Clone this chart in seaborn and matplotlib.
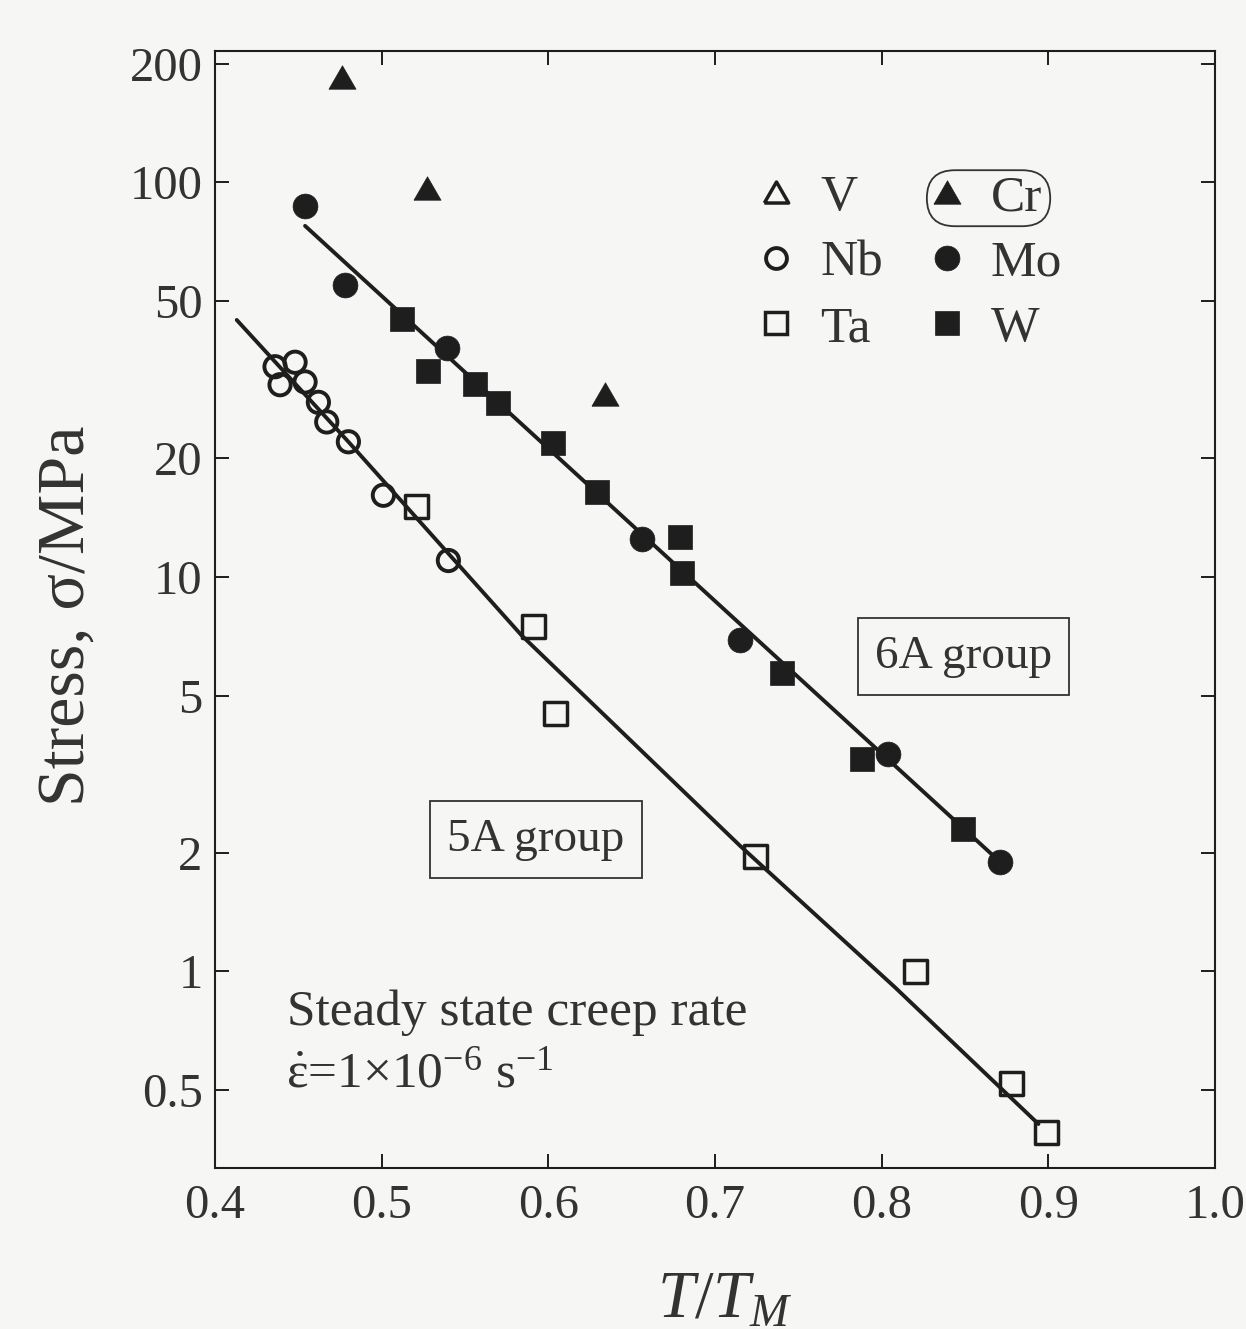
import matplotlib
matplotlib.use("Agg")
import matplotlib.pyplot as plt
import seaborn as sns
import pandas as pd
from matplotlib.lines import Line2D
from matplotlib.patches import FancyBboxPatch
from matplotlib.transforms import IdentityTransform
from matplotlib.ticker import NullLocator

# -------------------------
# Data (T/T_M, stress in MPa)
# -------------------------
cr_t = [0.476, 0.527, 0.634]
cr_s = [185, 97, 29]

mo_t = [0.454, 0.478, 0.539, 0.656, 0.715, 0.804, 0.871]
mo_s = [87, 55, 38, 12.5, 6.9, 3.55, 1.89]

w_t = [0.512, 0.528, 0.556, 0.570, 0.603, 0.629, 0.679, 0.680, 0.740, 0.788, 0.849]
w_s = [45, 33.3, 30.8, 27.6, 21.9, 16.4, 12.6, 10.2, 5.7, 3.45, 2.29]

nb_t = [0.436, 0.448, 0.439, 0.454, 0.462, 0.467, 0.480, 0.501, 0.540]
nb_s = [34.1, 35.0, 30.7, 31.2, 27.7, 24.7, 22.0, 16.1, 11.0]

ta_t = [0.521, 0.591, 0.604, 0.724, 0.820, 0.878, 0.899]
ta_s = [15.1, 7.5, 4.5, 1.95, 1.0, 0.52, 0.39]

# hand drawn trend lines
line6_t = [0.454, 0.873]
line6_s = [77.6, 1.86]
line5_t = [0.413, 0.480, 0.584, 0.715, 0.808, 0.894]
line5_s = [44.8, 22.0, 7.1, 2.08, 0.91, 0.41]

x_ticks = [0.4, 0.5, 0.6, 0.7, 0.8, 0.9, 1.0]
x_labels = ["0.4", "0.5", "0.6", "0.7", "0.8", "0.9", "1.0"]
y_ticks = [0.5, 1, 2, 5, 10, 20, 50, 100, 200]
y_labels = ["0.5", "1", "2", "5", "10", "20", "50", "100", "200"]

# -------------------------
# Style
# -------------------------
sns.set_theme(style="ticks")
plt.rcParams["font.family"] = ["Liberation Serif", "DejaVu Serif"]
plt.rcParams["mathtext.fontset"] = "custom"
plt.rcParams["mathtext.rm"] = "Liberation Serif"
plt.rcParams["mathtext.it"] = "Liberation Serif:italic"
plt.rcParams["mathtext.bf"] = "Liberation Serif:bold"

ink = "#1e1e1e"
txt = "#333333"
bg = "#f6f6f4"

# equilateral-ish triangle marker (closed so the open version draws all sides)
tri = [(-1, -0.866), (1, -0.866), (0, 0.866), (-1, -0.866)]

fig = plt.figure(figsize=(12.46, 13.29), dpi=100, facecolor=bg)
ax = fig.add_axes([0.1726, 0.1215, 0.8026, 0.8405], facecolor=bg)

# trend lines
sns.lineplot(x=line6_t, y=line6_s, ax=ax, color=ink, lw=2.8, sort=False, estimator=None)
sns.lineplot(x=line5_t, y=line5_s, ax=ax, color=ink, lw=2.8, sort=False, estimator=None)

# points
sns.scatterplot(x=cr_t, y=cr_s, ax=ax, marker=tri, s=380, color=ink, edgecolor=ink, linewidth=0.5, zorder=3)
sns.scatterplot(x=mo_t, y=mo_s, ax=ax, marker="o", s=320, color=ink, edgecolor=ink, linewidth=0.5, zorder=3)
sns.scatterplot(x=w_t, y=w_s, ax=ax, marker="s", s=290, color=ink, edgecolor=ink, linewidth=0.5, zorder=3)
sns.scatterplot(x=nb_t, y=nb_s, ax=ax, marker="o", s=235, color=ink, facecolor="none", edgecolor=ink, linewidth=2.8, zorder=3)
sns.scatterplot(x=ta_t, y=ta_s, ax=ax, marker="s", s=275, color=ink, facecolor="none", edgecolor=ink, linewidth=2.5, zorder=3)

ax.set_yscale("log")
ax.set_xlim(0.4, 1.0)
ax.set_ylim(0.318, 216)
ax.set_xticks(x_ticks)
ax.set_xticklabels(x_labels)
ax.set_yticks(y_ticks)
ax.set_yticklabels(y_labels)
ax.yaxis.set_minor_locator(NullLocator())
ax.xaxis.set_minor_locator(NullLocator())
ax.tick_params(which="major", direction="in", top=True, right=True, length=10, width=1.4,
               color=ink, labelcolor=txt, labelsize=35)
ax.tick_params(axis="x", pad=12)
ax.tick_params(axis="y", pad=9)
for sp in ax.spines.values():
    sp.set_linewidth(1.5)
    sp.set_color(ink)

ax.set_xlabel(r"$T/T_M$", fontsize=48, color=txt, va="baseline")
ax.xaxis.set_label_coords(0.51, -0.134)
ax.set_ylabel("Stress, σ/MPa", fontsize=49, color=txt)
ax.yaxis.set_label_coords(-0.117, 0.494)

# legend
def key(marker, ms, filled, mew):
    return Line2D([], [], ls="none", marker=marker, ms=ms, mec=ink,
                  mfc=ink if filled else "none", mew=mew)

handles = [key(tri, 17.5, False, 2.5), key("o", 15, False, 2.8), key("s", 16.5, False, 2.5),
           key(tri, 19.5, True, 0.5), key("o", 17.9, True, 0.5), key("s", 17, True, 0.5)]
labels = ["V", "Nb", "Ta", "Cr", "Mo", "W"]
leg = ax.legend(handles, labels, ncol=2, loc="upper left", bbox_to_anchor=(0.546, 0.889),
                frameon=False, fontsize=37, handlelength=0.6, handletextpad=0.55,
                columnspacing=0.95, labelspacing=0.36, borderpad=0, borderaxespad=0)
for t in leg.get_texts():
    t.set_color(txt)

# annotations
box = dict(boxstyle="square,pad=0.36", fc=bg, ec=txt, lw=1.3)
ax.text(0.849, 6.28, "6A group", ha="center", va="center", fontsize=34, color=txt, bbox=box)
ax.text(0.5925, 2.16, "5A group", ha="center", va="center", fontsize=34, color=txt, bbox=box)
ax.text(0.072, 0.128, "Steady state creep rate", transform=ax.transAxes,
        fontsize=37, color=txt, ha="left", va="baseline")
ax.text(0.071, 0.0724, r"$\dot{\mathrm{\varepsilon}}$=1×10$^{\mathrm{-6}}$ s$^{\mathrm{-1}}$",
        transform=ax.transAxes, fontsize=37, color=txt, ha="left", va="baseline")

# rounded frame around the Cr legend entry
fig.canvas.draw()
rend = fig.canvas.get_renderer()
bb = leg.get_texts()[3].get_window_extent(rend)
yc = (bb.y0 + bb.y1) / 2
x0 = bb.x0 - 64
x1 = bb.x1 + 8
pill = FancyBboxPatch((x0, yc - 28), x1 - x0, 56, boxstyle="round,pad=0,rounding_size=28",
                      transform=IdentityTransform(), fc="none", ec=txt, lw=1.3)
fig.add_artist(pill)

fig.savefig("out.png", dpi=100, facecolor=bg)
